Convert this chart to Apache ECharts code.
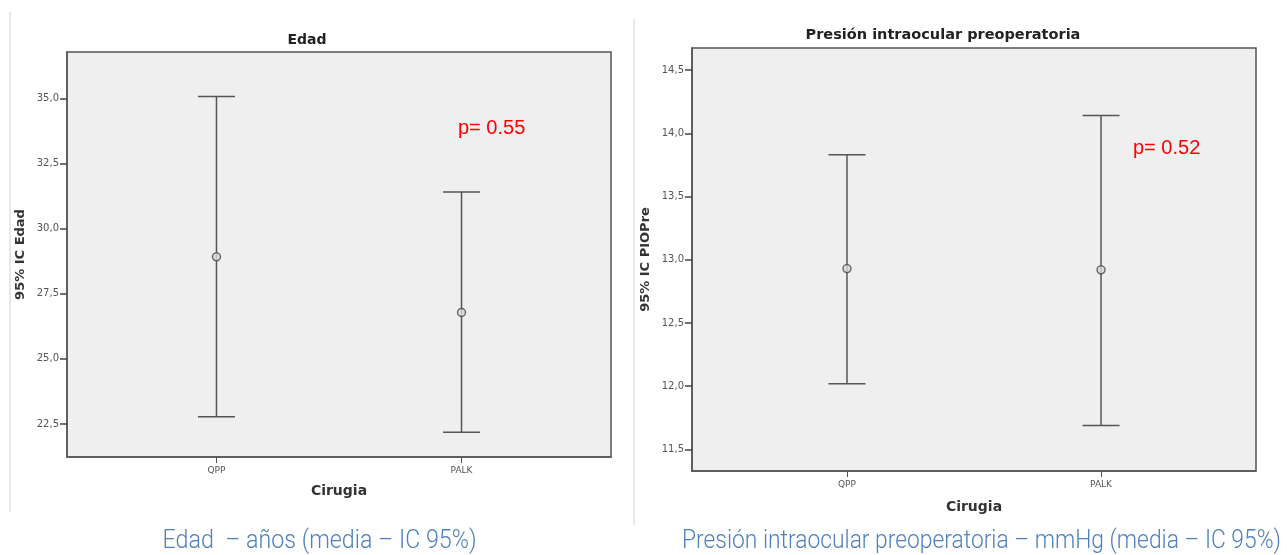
<!DOCTYPE html>
<html>
<head>
<meta charset="utf-8">
<script src="https://cdn.jsdelivr.net/npm/echarts@6/dist/echarts.min.js"></script>
<style>
html,body{margin:0;padding:0;background:#fff;}
#c{width:1287px;height:555px;}
</style>
</head>
<body>
<div id="c"></div>
<script>
// ---- data ----
const categories = ['QPP', 'PALK'];
const edadMean = [28.92, 26.78];
const edadLow  = [22.78, 22.18];
const edadHigh = [35.08, 31.41];
const pioMean = [12.93, 12.92];
const pioLow  = [12.02, 11.69];
const pioHigh = [13.83, 14.14];
const edadTicks = [22.5, 25.0, 27.5, 30.0, 32.5, 35.0];
const pioTicks  = [11.5, 12.0, 12.5, 13.0, 13.5, 14.0, 14.5];
const titles = ['Edad', 'Presión intraocular preoperatoria'];
const yNames = ['95% IC Edad', '95% IC PIOPre'];
const xName = 'Cirugia';
const pTexts = ['p= 0.55', 'p= 0.52'];
const captions = ['Edad  – años (media – IC 95%)', 'Presión intraocular preoperatoria – mmHg (media – IC 95%)'];

const catIdx = categories.map((c, i) => i);
const fmtComma = v => (Math.round(v * 10) / 10).toFixed(1).replace('.', ',');
const LINE = '#555';
const FONT = "'DejaVu Sans',sans-serif";
const CAP_FONT = "300 25px Roboto, sans-serif";

function xAxisCfg(gi, gap) {
  return {
    type: 'value', gridIndex: gi, min: -0.61, max: 1.61,
    splitLine: {show: false},
    axisLine: {show: true, onZero: false, lineStyle: {color: LINE, width: 1.5}},
    axisTick: {show: true, customValues: catIdx, length: 6, lineStyle: {color: LINE}},
    axisLabel: {customValues: catIdx, formatter: v => categories[Math.round(v)] || '', color: '#555', fontSize: 9, fontFamily: FONT, margin: 9},
    name: xName, nameLocation: 'middle', nameGap: gap,
    nameTextStyle: {fontWeight: 'bold', fontSize: 14, color: '#333', fontFamily: FONT}
  };
}
function yAxisCfg(gi, min, max, ticks, name) {
  return {
    type: 'value', gridIndex: gi, min: min, max: max,
    splitLine: {show: false},
    axisLine: {show: true, onZero: false, lineStyle: {color: LINE, width: 1.5}},
    axisTick: {show: true, customValues: ticks, length: 7, lineStyle: {color: '#444', width: 1.5}},
    axisLabel: {customValues: ticks, formatter: fmtComma, color: '#555', fontSize: 10, fontFamily: FONT, margin: 8},
    name: name, nameLocation: 'middle', nameGap: 40, nameRotate: 90,
    nameTextStyle: {fontWeight: 'bold', fontSize: 13, color: '#333', fontFamily: FONT}
  };
}
function errSeries(gi, low, high) {
  return {
    type: 'custom', xAxisIndex: gi, yAxisIndex: gi,
    data: catIdx.map(i => [i, low[i], high[i]]),
    encode: {x: 0, y: [1, 2]},
    renderItem: function (params, api) {
      const lo = api.coord([api.value(0), api.value(1)]);
      const hi = api.coord([api.value(0), api.value(2)]);
      const hw = 18.5;
      const st = {stroke: LINE, lineWidth: 1.5};
      return {type: 'group', children: [
        {type: 'line', shape: {x1: lo[0], y1: lo[1], x2: hi[0], y2: hi[1]}, style: st},
        {type: 'line', shape: {x1: hi[0] - hw, y1: hi[1], x2: hi[0] + hw, y2: hi[1]}, style: st},
        {type: 'line', shape: {x1: lo[0] - hw, y1: lo[1], x2: lo[0] + hw, y2: lo[1]}, style: st}
      ]};
    },
    z: 2
  };
}
function meanSeries(gi, mean) {
  return {
    type: 'scatter', xAxisIndex: gi, yAxisIndex: gi,
    data: catIdx.map(i => [i, mean[i]]),
    symbol: 'circle', symbolSize: 8,
    itemStyle: {color: '#d8d8d8', borderColor: '#444', borderWidth: 1.4},
    z: 3, silent: true
  };
}

// measure caption widths so they can be horizontally fitted to the reference span
const mctx = document.createElement('canvas').getContext('2d');
mctx.font = CAP_FONT;
function capText(text, cx, cy, targetW) {
  const w = mctx.measureText(text).width || targetW;
  const s = targetW / w;
  return {type: 'text', x: cx, y: cy, scaleX: s, originX: 0, style: {text: text, textAlign: 'center', textVerticalAlign: 'middle', font: CAP_FONT, fill: '#4f81bd'}};
}

const chart = echarts.init(document.getElementById('c'), null, {renderer: 'canvas'});
chart.setOption({
  animation: false,
  backgroundColor: '#fff',
  grid: [
    {left: 67, right: 1287 - 611, top: 52, bottom: 555 - 457, show: true, backgroundColor: '#efefef', borderColor: LINE, borderWidth: 1.5},
    {left: 692, right: 1287 - 1256, top: 48, bottom: 555 - 471, show: true, backgroundColor: '#efefef', borderColor: LINE, borderWidth: 1.5}
  ],
  xAxis: [xAxisCfg(0, 27), xAxisCfg(1, 29)],
  yAxis: [
    yAxisCfg(0, 21.23, 36.79, edadTicks, yNames[0]),
    yAxisCfg(1, 11.33, 14.674, pioTicks, yNames[1])
  ],
  series: [
    errSeries(0, edadLow, edadHigh), meanSeries(0, edadMean),
    errSeries(1, pioLow, pioHigh), meanSeries(1, pioMean)
  ],
  graphic: [
    {type: 'line', shape: {x1: 10, y1: 12, x2: 10, y2: 512}, style: {stroke: '#d0d0d0', lineWidth: 1}},
    {type: 'line', shape: {x1: 634, y1: 19, x2: 634, y2: 525}, style: {stroke: '#d0d0d0', lineWidth: 1}},
    {type: 'text', x: 307, y: 40, style: {text: titles[0], textAlign: 'center', textVerticalAlign: 'middle', font: 'bold 14px ' + FONT, fill: '#222'}},
    {type: 'text', x: 943, y: 35, style: {text: titles[1], textAlign: 'center', textVerticalAlign: 'middle', font: 'bold 14.5px ' + FONT, fill: '#222'}},
    {type: 'text', x: 458, y: 128, style: {text: pTexts[0], textAlign: 'left', textVerticalAlign: 'middle', font: "20px 'Liberation Sans', Arial, sans-serif", fill: '#ff0000'}},
    {type: 'text', x: 1133, y: 148, style: {text: pTexts[1], textAlign: 'left', textVerticalAlign: 'middle', font: "20px 'Liberation Sans', Arial, sans-serif", fill: '#ff0000'}},
    capText(captions[0], 319.5, 542, 314),
    capText(captions[1], 981.5, 542, 599)
  ]
});
</script>
</body>
</html>
